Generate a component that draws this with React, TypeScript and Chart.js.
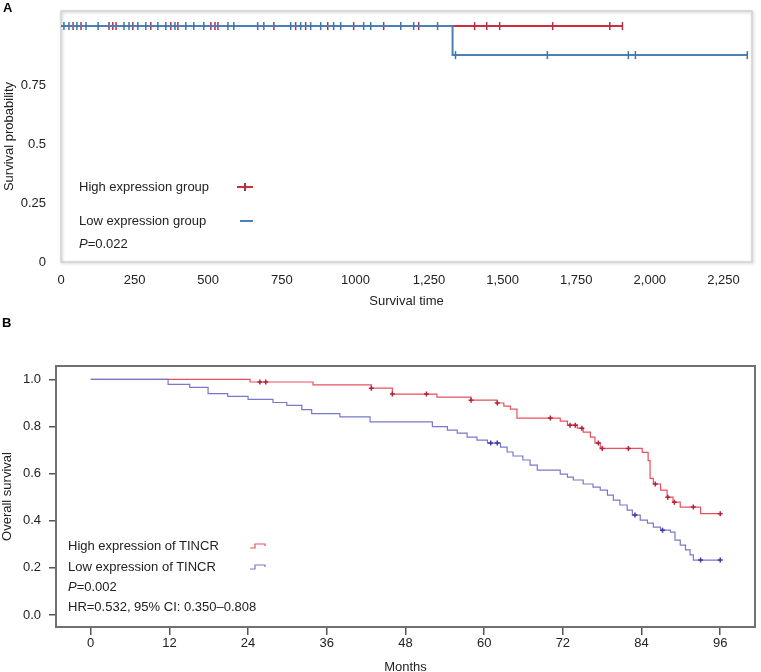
import React, { useEffect, useRef } from "react";
import { Chart, registerables } from "chart.js";
Chart.register(...registerables);

const FONT = "'Liberation Sans', Arial, Helvetica, sans-serif";

// ---------- Panel A data ----------
const aXTicks = [0, 250, 500, 750, 1000, 1250, 1500, 1750, 2000, 2250];
const aXTickLabels = ["0", "250", "500", "750", "1000", "1,250", "1,500", "1,750", "2,000", "2,250"];
const aYTicks = [0, 0.25, 0.5, 0.75];
const aYTickLabels = ["0", "0.25", "0.5", "0.75"];
const aHighTimes = [0, 1907];
const aHighSurv = [1, 1];
const aLowTimes = [0, 1330, 2331];
const aLowSurv = [1, 0.877, 0.877];
const aHighCensor = [41, 68, 163, 176, 187, 244, 305, 373, 397, 509, 523, 533, 723, 797, 831, 906, 994, 1096, 1215, 1405, 1446, 1490, 1670, 1864, 1907];
const aLowCensor = [10, 27, 54, 85, 126, 214, 231, 261, 288, 329, 356, 387, 424, 451, 485, 567, 587, 668, 689, 780, 814, 848, 882, 926, 950, 1028, 1052, 1154, 1198, 1279, 1340, 1652, 1927, 1951, 2331];

// ---------- Panel B data ----------
const bXTicks = [0, 12, 24, 36, 48, 60, 72, 84, 96];
const bYTicks = [0, 0.2, 0.4, 0.6, 0.8, 1.0];
const bHighTimes = [0, 24.3, 33.9, 42.8, 46, 52.8, 58, 62, 63, 64, 65, 71.6, 72.7, 74.2, 75.1, 76.2, 76.9, 77.7, 84.1, 85, 85.3, 85.8, 86.9, 87.9, 88.8, 89.9, 93, 96];
const bHighSurv = [1, 0.989, 0.977, 0.963, 0.938, 0.925, 0.912, 0.9, 0.887, 0.874, 0.836, 0.823, 0.806, 0.793, 0.776, 0.755, 0.73, 0.707, 0.69, 0.655, 0.58, 0.556, 0.53, 0.5, 0.479, 0.458, 0.43, 0.43];
const bHighCensor = [25.8, 26.7, 42.8, 46, 51.2, 58, 62, 70.1, 73.1, 73.9, 74.9, 77.4, 78, 82, 86.1, 88, 89, 91.9, 96];
const bLowTimes = [0, 11.8, 15.1, 17.9, 20.9, 24, 27.8, 29.9, 32.2, 33.7, 38, 42.6, 52.1, 54.4, 55.9, 57.4, 58.9, 60.5, 62.5, 63.5, 64.4, 65.9, 67, 68.1, 71.6, 72.7, 73.6, 75.1, 76.6, 77.7, 78.8, 79.7, 80.7, 81.8, 82.6, 83.8, 84.9, 85.8, 86.9, 88.4, 89.1, 89.9, 90.7, 91.4, 91.9, 96];
const bLowSurv = [1, 0.979, 0.966, 0.94, 0.928, 0.915, 0.902, 0.89, 0.872, 0.855, 0.841, 0.82, 0.8, 0.785, 0.772, 0.755, 0.742, 0.73, 0.713, 0.692, 0.675, 0.658, 0.636, 0.615, 0.598, 0.585, 0.573, 0.556, 0.543, 0.53, 0.509, 0.488, 0.467, 0.445, 0.424, 0.403, 0.39, 0.373, 0.36, 0.352, 0.318, 0.297, 0.276, 0.255, 0.233, 0.233];
const bLowCensor = [61, 62, 83, 87.2, 93, 96];

function survAt(times: number[], surv: number[], t: number) {
  let v = surv[0];
  for (let i = 0; i < times.length; i++) if (times[i] <= t) v = surv[i];
  return v;
}
const curve = (times: number[], surv: number[]) => times.map((t, i) => ({ x: t, y: surv[i] }));
const marks = (c: number[], times: number[], surv: number[]) => c.map((t) => ({ x: t, y: survAt(times, surv, t) }));

const frameA = {
  id: "frameA",
  beforeDatasetsDraw(chart: any) {
    const { ctx, chartArea: a } = chart;
    ctx.save();
    ctx.shadowColor = "rgba(0,0,0,0.22)";
    ctx.shadowBlur = 3;
    ctx.shadowOffsetX = 1;
    ctx.shadowOffsetY = 1;
    ctx.strokeStyle = "#d2d2d2";
    ctx.lineWidth = 1.5;
    ctx.strokeRect(a.left, a.top, a.right - a.left, a.bottom - a.top);
    ctx.restore();
  },
};
const frameB = {
  id: "frameB",
  afterDraw(chart: any) {
    const { ctx, chartArea: a } = chart;
    ctx.save();
    ctx.strokeStyle = "#707070";
    ctx.lineWidth = 2;
    ctx.strokeRect(a.left, a.top, a.right - a.left, a.bottom - a.top);
    ctx.restore();
  },
};

const txt = "#222";

function ChartA() {
  const ref = useRef<HTMLCanvasElement>(null);
  useEffect(() => {
    const chart = new Chart(ref.current!, {
      type: "scatter",
      data: {
        datasets: [
          { data: curve(aLowTimes, aLowSurv), showLine: true, stepped: true, borderColor: "#4a80b4", borderWidth: 2, pointRadius: 0, order: 1 },
          { data: marks(aLowCensor, aLowTimes, aLowSurv), showLine: false, pointStyle: "line", rotation: 90, radius: 4, borderColor: "#3f74aa", borderWidth: 1.5, order: 0 },
          { data: curve(aHighTimes, aHighSurv), showLine: true, stepped: true, borderColor: "#cc2f3c", borderWidth: 2, pointRadius: 0, order: 3 },
          { data: marks(aHighCensor, aHighTimes, aHighSurv), showLine: false, pointStyle: "line", rotation: 90, radius: 4, borderColor: "#b0304a", borderWidth: 1.5, order: 2 },
        ] as any,
      },
      options: {
        animation: false,
        responsive: false,
        devicePixelRatio: 1,
        layout: { padding: { top: 11, right: 9, left: 0, bottom: 0 } },
        plugins: { legend: { display: false }, tooltip: { enabled: false } },
        scales: {
          x: {
            type: "linear", min: 0, max: 2347,
            afterBuildTicks: (s: any) => { s.ticks = aXTicks.map((v) => ({ value: v })); },
            afterFit: (s: any) => { s.height = 58; },
            ticks: { callback: (_v: any, i: number) => aXTickLabels[i], font: { size: 13, family: FONT }, color: txt, padding: 11, maxRotation: 0, autoSkip: false },
            grid: { display: false, drawTicks: false },
            border: { display: false },
            title: { display: true, text: "Survival time", font: { size: 13, family: FONT }, color: txt, padding: { top: 0, bottom: 11 } },
          },
          y: {
            type: "linear", min: 0, max: 1.064,
            afterBuildTicks: (s: any) => { s.ticks = aYTicks.map((v) => ({ value: v })); },
            afterFit: (s: any) => { s.width = 61; },
            ticks: { callback: (_v: any, i: number) => aYTickLabels[i], font: { size: 13, family: FONT }, color: txt, padding: 0, autoSkip: false },
            grid: { display: false, drawTicks: true, tickLength: 15 },
            border: { display: false },
            title: { display: true, text: "Survival probability", font: { size: 13, family: FONT }, color: txt, padding: { top: 2, bottom: 0 } },
          },
        },
      } as any,
      plugins: [frameA],
    });
    return () => chart.destroy();
  }, []);
  return <canvas ref={ref} width={761} height={320} style={{ position: "absolute", left: 0, top: 0, width: 761, height: 320 }} />;
}

function ChartB() {
  const ref = useRef<HTMLCanvasElement>(null);
  useEffect(() => {
    const chart = new Chart(ref.current!, {
      type: "scatter",
      data: {
        datasets: [
          { data: curve(bHighTimes, bHighSurv), showLine: true, stepped: true, borderColor: "#e8505e", borderWidth: 1.2, pointRadius: 0, order: 3 },
          { data: marks(bHighCensor, bHighTimes, bHighSurv), showLine: false, pointStyle: "cross", radius: 2.5, borderColor: "#b3243a", borderWidth: 1.5, order: 2 },
          { data: curve(bLowTimes, bLowSurv), showLine: true, stepped: true, borderColor: "#7878c8", borderWidth: 1.2, pointRadius: 0, order: 1 },
          { data: marks(bLowCensor, bLowTimes, bLowSurv), showLine: false, pointStyle: "cross", radius: 2.5, borderColor: "#3c3ca0", borderWidth: 1.5, order: 0 },
        ] as any,
      },
      options: {
        animation: false,
        responsive: false,
        devicePixelRatio: 1,
        layout: { padding: { top: 46, right: 6, left: 0, bottom: 0 } },
        plugins: { legend: { display: false }, tooltip: { enabled: false } },
        scales: {
          x: {
            type: "linear", min: -5.29, max: 101.3,
            afterBuildTicks: (s: any) => { s.ticks = bXTicks.map((v) => ({ value: v })); },
            afterFit: (s: any) => { s.height = 53; },
            ticks: { callback: (v: any) => String(v), font: { size: 13, family: FONT }, color: txt, padding: 1, maxRotation: 0, autoSkip: false },
            grid: { drawOnChartArea: false, drawTicks: true, tickLength: 8, color: "#555", lineWidth: 1.5 },
            border: { display: false },
            title: { display: true, text: "Months", font: { size: 13, family: FONT }, color: txt, padding: { top: 0, bottom: 5 } },
          },
          y: {
            type: "linear", min: -0.051, max: 1.057,
            afterBuildTicks: (s: any) => { s.ticks = bYTicks.map((v) => ({ value: v })); },
            afterFit: (s: any) => { s.width = 56; },
            ticks: { callback: (v: any) => Number(v).toFixed(1), font: { size: 13, family: FONT }, color: txt, padding: 8, autoSkip: false },
            grid: { drawOnChartArea: false, drawTicks: true, tickLength: 7, color: "#555", lineWidth: 1.5 },
            border: { display: false },
            title: { display: true, text: "Overall survival", font: { size: 13, family: FONT }, color: txt, padding: { top: 0, bottom: 0 } },
          },
        },
      } as any,
      plugins: [frameB],
    });
    return () => chart.destroy();
  }, []);
  return <canvas ref={ref} width={761} height={360} style={{ position: "absolute", left: 0, top: 320, width: 761, height: 360 }} />;
}

const label = (left: number, top: number): React.CSSProperties => ({
  position: "absolute", left, top, fontFamily: FONT, fontSize: 13, lineHeight: "16px", color: txt, whiteSpace: "nowrap",
});

function StepIcon({ left, top, color }: { left: number; top: number; color: string }) {
  return (
    <svg width={18} height={8} style={{ position: "absolute", left, top }}>
      <polyline points="0,6 5,6 5,2 15,2 15,4" fill="none" stroke={color} strokeWidth={1.2} />
    </svg>
  );
}

export default function App() {
  return (
    <div style={{ position: "fixed", left: 0, top: 0, width: 761, height: 672, overflow: "hidden", background: "#fff" }}>
      <ChartA />
      <ChartB />
      <div style={{ position: "absolute", left: 3, top: 0, fontFamily: FONT, fontWeight: "bold", fontSize: 13, lineHeight: "15px" }}>A</div>
      <div style={{ position: "absolute", left: 2, top: 315, fontFamily: FONT, fontWeight: "bold", fontSize: 13, lineHeight: "15px" }}>B</div>

      <div style={label(79, 179)}>High expression group</div>
      <div style={label(79, 212.5)}>Low expression group</div>
      <div style={label(79, 236)}><i>P</i>=0.022</div>
      <div style={{ position: "absolute", left: 237, top: 186, width: 16, height: 2, background: "#cc2f3c" }} />
      <div style={{ position: "absolute", left: 244, top: 183, width: 1.5, height: 8, background: "#b0304a" }} />
      <div style={{ position: "absolute", left: 240, top: 219.5, width: 13, height: 2, background: "#4a80b4" }} />

      <div style={label(68, 538)}>High expression of TINCR</div>
      <div style={label(68, 558.7)}>Low expression of TINCR</div>
      <div style={label(68, 578.7)}><i>P</i>=0.002</div>
      <div style={label(68, 598.7)}>HR=0.532, 95% CI: 0.350–0.808</div>
      <StepIcon left={250} top={542} color="#e8505e" />
      <StepIcon left={250} top={563} color="#7878c8" />
    </div>
  );
}
